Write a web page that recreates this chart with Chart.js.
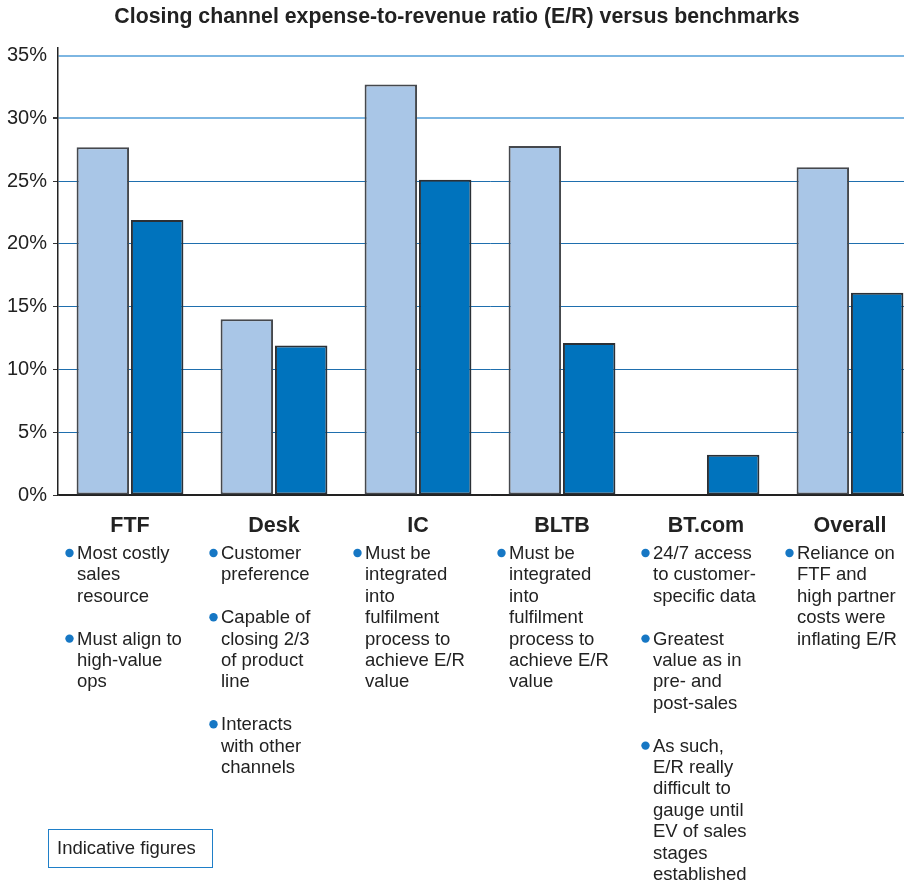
<!DOCTYPE html>
<html>
<head>
<meta charset="utf-8">
<title>Closing channel E/R versus benchmarks</title>
<script src="https://cdn.jsdelivr.net/npm/chart.js@4/dist/chart.umd.min.js"></script>
<style>
  html, body { margin: 0; padding: 0; background: #fff; overflow: hidden; width: 904px; height: 885px; }
  #wrap { position: relative; width: 904px; height: 885px; overflow: hidden; }
  canvas { position: absolute; left: 0; top: 0; }
  #note {
    position: absolute; left: 48px; top: 829px; width: 165px; height: 39px;
    border: 1.5px solid #1f7fc8; box-sizing: border-box;
    font-family: 'Liberation Sans', Arial, sans-serif; font-size: 18.5px; color: #222;
    line-height: 36px; padding-left: 8px;
  }
</style>
</head>
<body>
<div id="wrap">
  <canvas id="chart" width="925" height="885"></canvas>
  <div id="note">Indicative figures</div>
</div>
<script>
// Channels on the x axis
const categories = ['FTF', 'Desk', 'IC', 'BLTB', 'BT.com', 'Overall'];
// Benchmark expense-to-revenue ratio, % (no benchmark for BT.com)
const benchmarkER = [27.7, 14.0, 32.7, 27.8, null, 26.1];
// Closing channel expense-to-revenue ratio, %
const closingER = [21.9, 11.9, 25.1, 12.1, 3.2, 16.1];
// Y axis tick values, %
const yTickValues = [0, 5, 10, 15, 20, 25, 30, 35];
const chartTitle = 'Closing channel expense-to-revenue ratio (E/R) versus benchmarks';
// Bullet notes under each channel: one list of lines per bullet
const channelNotes = [
  [['Most costly', 'sales', 'resource'], ['Must align to', 'high-value', 'ops']],
  [['Customer', 'preference'], ['Capable of', 'closing 2/3', 'of product', 'line'], ['Interacts', 'with other', 'channels']],
  [['Must be', 'integrated', 'into', 'fulfilment', 'process to', 'achieve E/R', 'value']],
  [['Must be', 'integrated', 'into', 'fulfilment', 'process to', 'achieve E/R', 'value']],
  [['24/7 access', 'to customer-', 'specific data'], ['Greatest', 'value as in', 'pre- and', 'post-sales'], ['As such,', 'E/R really', 'difficult to', 'gauge until', 'EV of sales', 'stages', 'established']],
  [['Reliance on', 'FTF and', 'high partner', 'costs were', 'inflating E/R']]
];

const FONT = "'Liberation Sans', Arial, Helvetica, sans-serif";
const TEXT = '#222222';

// Title and bullet notes drawn on the canvas
const annotations = {
  id: 'annotations',
  afterDraw(chart) {
    const ctx = chart.ctx;
    const x = chart.scales.x;
    ctx.save();
    ctx.fillStyle = TEXT;
    ctx.font = 'bold 21.3px ' + FONT;
    ctx.textAlign = 'center';
    ctx.textBaseline = 'middle';
    ctx.fillText(chartTitle, 457, 17);

    const lineH = 21.4;
    ctx.font = '18.5px ' + FONT;
    ctx.textAlign = 'left';
    channelNotes.forEach((bullets, i) => {
      const cx = x.getPixelForValue(i);
      const tx = cx - 53;
      let y = 553;
      bullets.forEach((lines) => {
        ctx.fillStyle = '#1677c4';
        ctx.beginPath();
        ctx.arc(tx - 7.5, y, 4.2, 0, Math.PI * 2);
        ctx.fill();
        ctx.fillStyle = TEXT;
        lines.forEach((ln) => {
          ctx.fillText(ln, tx, y + 1);
          y += lineH;
        });
        y += lineH;
      });
    });
    ctx.restore();
  }
};

new Chart(document.getElementById('chart'), {
  type: 'bar',
  data: {
    labels: categories,
    datasets: [
      {
        label: 'Benchmark E/R',
        data: benchmarkER,
        backgroundColor: '#a9c6e7',
        borderColor: '#45484d',
        borderWidth: 2,
        borderSkipped: false
      },
      {
        label: 'Closing channel E/R',
        data: closingER,
        backgroundColor: '#0073bd',
        borderColor: '#2b3036',
        borderWidth: 2,
        borderSkipped: false
      }
    ]
  },
  options: {
    responsive: false,
    animation: false,
    events: [],
    layout: { padding: { top: 48, right: 3, bottom: 0, left: 0 } },
    categoryPercentage: 0.755,
    barPercentage: 0.965,
    plugins: {
      legend: { display: false },
      title: { display: false },
      tooltip: { enabled: false }
    },
    scales: {
      x: {
        grid: { display: false, drawTicks: false },
        border: { display: true, color: '#222', width: 1.5 },
        ticks: {
          color: TEXT,
          font: { family: FONT, size: 21.5, weight: 'bold' },
          padding: 18,
          maxRotation: 0,
          autoSkip: false
        },
        afterFit(scale) { scale.height = 390; }
      },
      y: {
        min: 0,
        max: 35.6,
        afterBuildTicks(scale) {
          scale.ticks = yTickValues.map(v => ({ value: v }));
        },
        grid: {
          color: (c) => {
            const v = c.tick && c.tick.value;
            if (v === 0) return '#222';
            if (v >= 30) return '#7db6e2';
            return '#1f6fae';
          },
          lineWidth: (c) => (c.tick && c.tick.value >= 30 ? 2 : 1),
          tickColor: (c) => (c.tick && c.tick.value === 35 ? 'rgba(0,0,0,0)' : '#333'),
          tickLength: 5
        },
        border: { display: true, color: '#222', width: 1.5 },
        ticks: {
          color: TEXT,
          font: { family: FONT, size: 20 },
          padding: 6,
          callback: (v) => v + '%'
        },
        afterFit(scale) { scale.width = 58; }
      }
    }
  },
  plugins: [annotations]
});
</script>
</body>
</html>
